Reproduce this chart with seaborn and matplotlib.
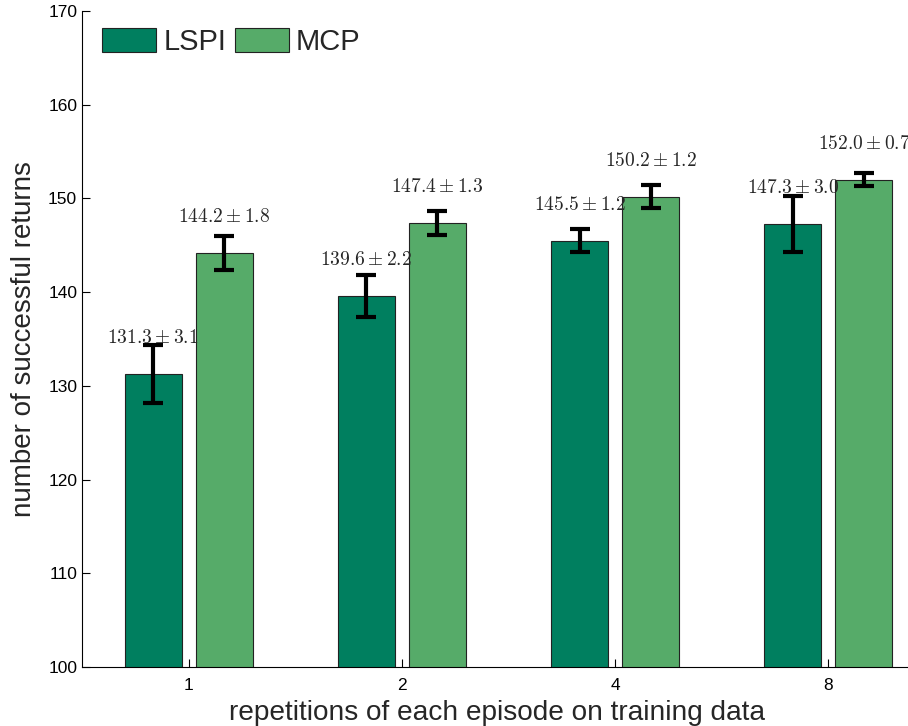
import numpy as np
import pandas as pd
import matplotlib
matplotlib.use("Agg")
import matplotlib.pyplot as plt
import seaborn as sns

repetitions = ["1", "2", "4", "8"]
methods = ["LSPI", "MCP"]
lspi_mean = [131.3, 139.6, 145.5, 147.3]
lspi_err = [3.1, 2.2, 1.2, 3.0]
mcp_mean = [144.2, 147.4, 150.2, 152.0]
mcp_err = [1.8, 1.3, 1.2, 0.7]
colors = ["#007F5F", "#56AB69"]

sns.set_theme(style="white")
plt.rcParams["font.family"] = ["Liberation Sans", "DejaVu Sans"]
plt.rcParams["mathtext.fontset"] = "cm"

df = pd.DataFrame({
    "rep": repetitions * 2,
    "method": ["LSPI"] * 4 + ["MCP"] * 4,
    "value": lspi_mean + mcp_mean,
    "err": lspi_err + mcp_err,
})

fig = plt.figure(figsize=(9.08, 7.26), dpi=100)
ax = fig.add_axes([82 / 908, (726 - 667) / 726, 853 / 908, 656 / 726])

sns.barplot(data=df, x="rep", y="value", hue="method", order=repetitions,
            hue_order=methods, palette=colors, saturation=1, width=0.666,
            gap=0.2, errorbar=None, edgecolor="#222222", linewidth=0.8, ax=ax)

means = {"LSPI": lspi_mean, "MCP": mcp_mean}
errs = {"LSPI": lspi_err, "MCP": mcp_err}
for cont, m in zip(ax.containers, methods):
    xs = [p.get_x() + p.get_width() / 2 for p in cont.patches]
    ax.errorbar(xs, means[m], yerr=errs[m], fmt="none", ecolor="black",
                elinewidth=3, capsize=7, capthick=3, zorder=5)
    for x, v, e in zip(xs, means[m], errs[m]):
        ax.text(x, v + 3.8, rf"${v:.1f} \pm {e:.1f}$", ha="center",
                va="center", fontsize=14, zorder=6)

ax.set_ylim(100, 170)
ax.set_xlim(-0.5, 3.5)
ax.set_yticks(range(100, 171, 10))
ax.tick_params(axis="both", direction="in", length=6, width=0.8,
               labelsize=12.5, colors="black", left=True, bottom=True)
ax.tick_params(axis="x", pad=8)
for s in ["top", "right"]:
    ax.spines[s].set_visible(False)
for s in ["left", "bottom"]:
    ax.spines[s].set_color("black")
    ax.spines[s].set_linewidth(0.8)

ax.set_xlabel("repetitions of each episode on training data", fontsize=20.2,
              labelpad=0)
ax.xaxis.set_label_coords((497 - 82) / 853, -0.05, transform=ax.transAxes)
ax.xaxis.label.set_va("top")
ax.set_ylabel("number of successful returns", fontsize=20, labelpad=8)

ax.legend(loc="upper left", ncol=2, frameon=False, fontsize=21,
          handlelength=1.85, handleheight=0.9, handletextpad=0.25,
          columnspacing=0.28, borderaxespad=0.3, bbox_to_anchor=(0.0, 1.005))

fig.savefig("out.png", dpi=100)
